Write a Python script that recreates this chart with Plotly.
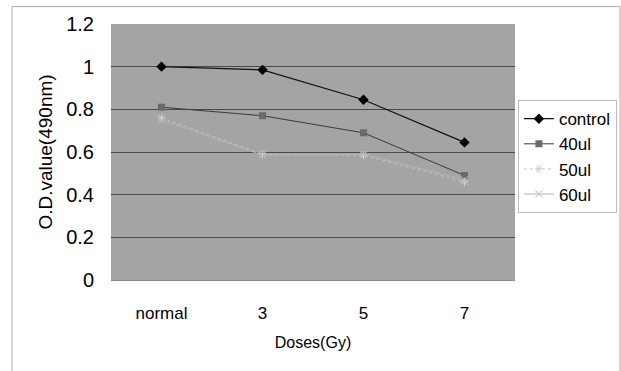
import plotly.graph_objects as go

categories = ["normal", "3", "5", "7"]
control = [1.00, 0.985, 0.845, 0.645]
ul40 = [0.81, 0.77, 0.69, 0.49]
ul50 = [0.76, 0.59, 0.585, 0.46]
ul60 = [0.75, 0.585, 0.59, 0.47]
y_ticks = [0, 0.2, 0.4, 0.6, 0.8, 1.0, 1.2]

fig = go.Figure()
fig.add_trace(go.Scatter(x=categories, y=control, name="control", mode="lines+markers",
                         line=dict(color="#111111", width=1.2),
                         marker=dict(symbol="diamond", size=8, color="#000000")))
fig.add_trace(go.Scatter(x=categories, y=ul40, name="40ul", mode="lines+markers",
                         line=dict(color="#3a3a3a", width=1),
                         marker=dict(symbol="square", size=7, color="#6a6a6a")))
fig.add_trace(go.Scatter(x=categories, y=ul50, name="50ul", mode="lines+markers",
                         line=dict(color="#c4c4c4", width=1, dash="dot"),
                         marker=dict(symbol="asterisk-open", size=7, color="#d0d0d0", line=dict(color="#d0d0d0", width=1))))
fig.add_trace(go.Scatter(x=categories, y=ul60, name="60ul", mode="lines+markers",
                         line=dict(color="#b4b4b4", width=1),
                         marker=dict(symbol="x-thin-open", size=7, color="#bcbcbc", line=dict(color="#bcbcbc", width=1))))

fig.update_layout(
    width=621, height=371,
    margin=dict(l=111, r=106, t=24, b=91, autoexpand=False),
    paper_bgcolor="white",
    plot_bgcolor="#a4a4a4",
    font=dict(family="Liberation Sans, Arial, sans-serif", color="black"),
    showlegend=True,
    legend=dict(xref="container", yref="container", x=0.834, y=0.73, xanchor="left", yanchor="top",
                bgcolor="white", bordercolor="#bbbbbb", borderwidth=1,
                font=dict(size=17), tracegroupgap=0, itemwidth=30),
    xaxis=dict(type="category", range=[-0.5, 3.5], showgrid=False, zeroline=False,
               showline=True, linecolor="#888888", ticks="", ticklen=0,
               tickfont=dict(size=17), title=dict(text="Doses(Gy)", font=dict(size=16), standoff=14),
               ticklabelstandoff=18),
    yaxis=dict(range=[0, 1.2], tickvals=y_ticks, showgrid=True, gridcolor="#4a4a4a", gridwidth=1,
               zeroline=False, showline=False, ticks="", ticklabelstandoff=16,
               tickfont=dict(size=20), title=dict(text="O.D.value(490nm)", font=dict(size=19), standoff=8)),
    shapes=[dict(type="rect", xref="paper", yref="paper", x0=-0.245, x1=1.26, y0=-0.38, y1=1.068,
                 line=dict(color="#aaaaaa", width=1), fillcolor="rgba(0,0,0,0)", layer="below")],
)

fig.write_html("out.html")
